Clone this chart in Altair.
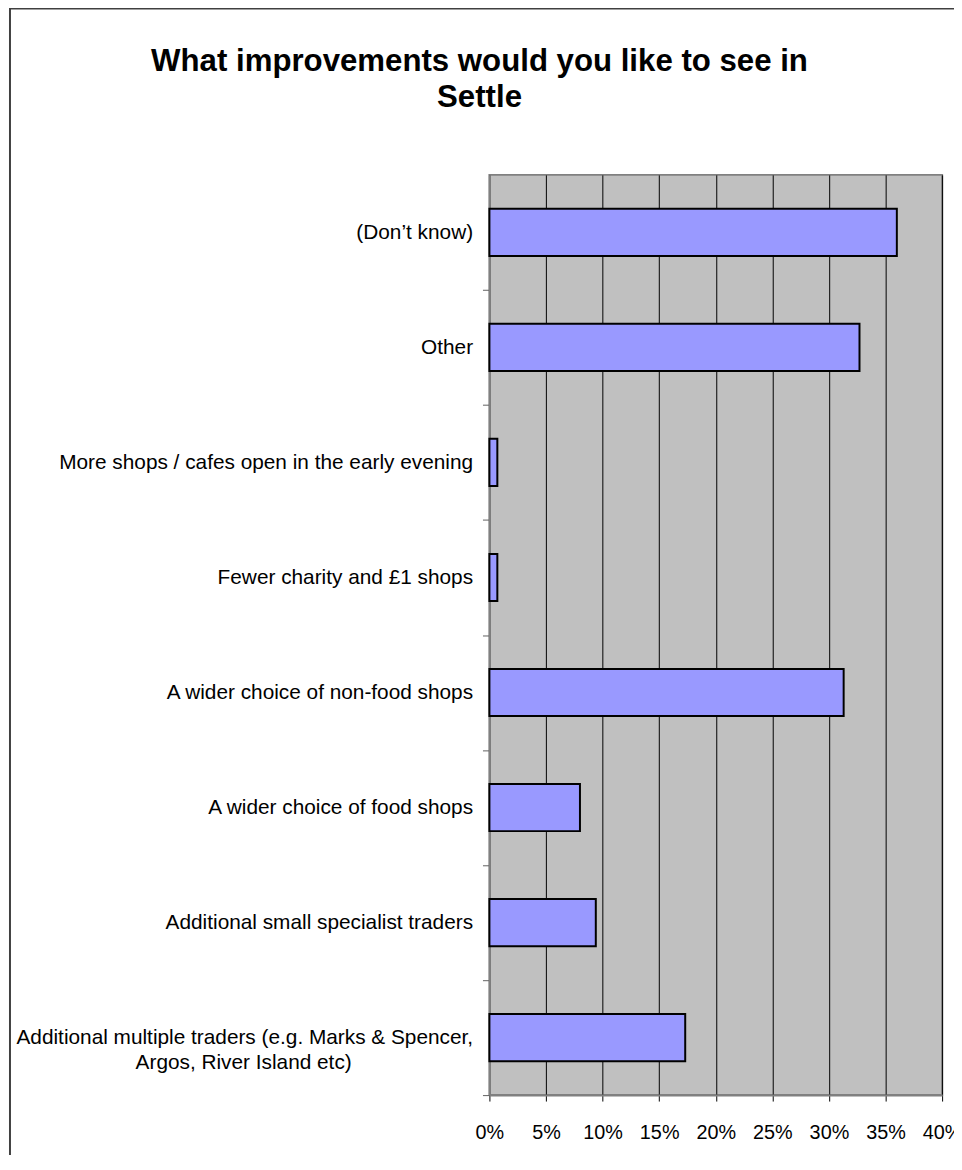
import altair as alt
import pandas as pd

categories = [
    "(Don\u2019t know)",
    "Other",
    "More shops / cafes open in the early evening",
    "Fewer charity and \u00a31 shops",
    "A wider choice of non-food shops",
    "A wider choice of food shops",
    "Additional small specialist traders",
    "Additional multiple traders (e.g. Marks & Spencer, Argos, River Island etc)",
]
values = [0.360, 0.327, 0.007, 0.007, 0.313, 0.080, 0.094, 0.173]
x_ticks = [0, 0.05, 0.10, 0.15, 0.20, 0.25, 0.30, 0.35, 0.40]
title_lines = ["What improvements would you like to see in", "Settle"]

df = pd.DataFrame({"category": categories, "value": values})

FONT = "Liberation Sans"
W, H = 457, 929
PAD = "\u00a0" * 21 + "\u200b"

label_expr = (
    "indexof(datum.value, 'Argos') >= 0 ? "
    "['Additional multiple traders (e.g. Marks & Spencer,', 'Argos, River Island etc)" + PAD + "'] "
    ": datum.value"
)

bars = alt.Chart(df).mark_bar(
    color="#9999FF", stroke="black", strokeWidth=2
).encode(
    x=alt.X(
        "value:Q",
        scale=alt.Scale(domain=[0, 0.4], nice=False, zero=True),
        axis=alt.Axis(
            values=x_ticks, format=".0%", title=None,
            grid=True, gridColor="black", gridWidth=1,
            domainColor="#808080", domainWidth=2,
            tickColor="black", tickSize=6, tickWidth=1,
            labelFont=FONT, labelFontSize=20, labelColor="black",
            labelPadding=22, labelFlush=False, labelOverlap=False,
        ),
    ),
    y=alt.Y(
        "category:N",
        sort=categories,
        scale=alt.Scale(paddingInner=0.59, paddingOuter=0.295),
        axis=alt.Axis(
            title=None, grid=False,
            ticks=True, tickSize=7, tickColor="#606060", tickWidth=1,
            tickOffset=H / 16, labelOffset=-H / 16,
            domainColor="#808080", domainWidth=2,
            labelFont=FONT, labelFontSize=21, labelColor="black",
            labelLimit=700, labelLineHeight=25, labelPadding=10,
            labelExpr=label_expr,
        ),
    ),
)

frame = alt.Chart(pd.DataFrame({"b": [0]}))

border = frame.mark_rect(
    fill="transparent", stroke="#404040", strokeWidth=2
).encode(
    x=alt.value(-484), x2=alt.value(W + 40),
    y=alt.value(-168), y2=alt.value(H + 120),
)

title = frame.mark_text(
    font=FONT, fontSize=31.5, fontWeight="bold", color="black",
    align="center", baseline="alphabetic", lineHeight=37,
).encode(
    x=alt.value(-10), y=alt.value(-105), text=alt.value(title_lines),
)

chart = alt.layer(bars, border, title).properties(
    width=W,
    height=H,
    background="white",
    autosize=alt.AutoSizeParams(type="none"),
    padding={"left": 486, "top": 163, "right": 12, "bottom": 55},
).configure_view(
    fill="#C0C0C0", stroke="#808080", strokeWidth=2
)

chart.save("out.html", embed_options={"renderer": "svg", "actions": False})
